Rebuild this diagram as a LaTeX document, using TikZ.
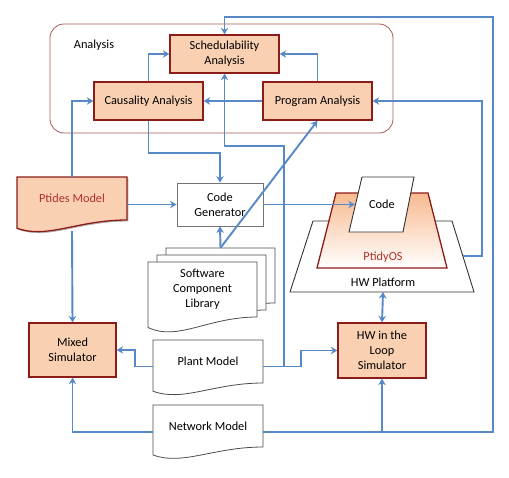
\documentclass[tikz,border=0pt]{standalone}
\usepackage{fontspec}
\setmainfont{Carlito}
\usepackage{xcolor}
\usepackage{tikz}
\usetikzlibrary{shapes,shapes.geometric}
\usetikzlibrary{calc,arrows.meta,positioning,shadows}
\definecolor{boxfill}{RGB}{250,208,178}
\definecolor{boxline}{RGB}{140,28,24}
\definecolor{ostop}{RGB}{247,186,144}
\definecolor{linkblue}{RGB}{88,137,199}
\definecolor{txtred}{RGB}{176,48,38}
\definecolor{anaframe}{RGB}{170,90,90}
\tikzset{
  basenode/.style = {align=center, inner sep=0pt, text centered, font=\fontsize{12.3}{15}\selectfont},
  box_o/.style = {basenode, rectangle, draw=boxline, fill=boxfill, line width=1.3pt, drop shadow={opacity=0.3, shadow xshift=1.2pt, shadow yshift=-1.2pt}},
  box_w/.style = {basenode, rectangle, draw=black!55, fill=white, line width=0.8pt},
  doc_n/.style = {basenode, rectangle},
  doc_o/.style = {draw=boxline, fill=boxfill, line width=1.3pt},
  doc_w/.style = {draw=black!70, fill=white, line width=0.8pt},
  plat_w/.style = {draw=black!80, fill=white, line width=0.9pt},
  os_o/.style = {draw=boxline, top color=ostop, bottom color=white, line width=1.3pt},
  link/.style = {draw=linkblue, line width=1.9pt, ->, >={Stealth[length=6.5pt,width=7.5pt]}}
}
\newcommand\docnode[7]{%
  \draw[#1] ($#4+(-#5/2,#6/2)$) -- ++(#5,0) -- ++(0,-#6)
    .. controls +(-0.45*#5,0) and +(0.27*#5,-0.26*#6) .. ++(-#5,-0.19*#6) -- cycle;
  \node[doc_n, minimum width=#5pt, minimum height=#6pt, #2] (#3) at #4 {#7};}

\begin{document}
\begin{tikzpicture}[x=1pt,y=1pt]
  \useasboundingbox (0,0) rectangle (509,-477);
  \draw[draw=anaframe, line width=0.8pt, rounded corners=14pt] (50,-24) rectangle (393,-133);
  \node[basenode] (analabel) at (94,-45) {Analysis};

  \node[box_o, minimum width=109pt, minimum height=38pt] (sched) at (224.5,-54) {Schedulability\\Analysis};
  \node[box_o, minimum width=109pt, minimum height=38pt] (causal) at (148.5,-101) {Causality Analysis};
  \node[box_o, minimum width=109pt, minimum height=38pt] (prog) at (317.5,-101) {Program Analysis};

  \docnode{fill=black, opacity=0.25, xshift=1.2pt, yshift=-1.2pt}{}{ptsh}{(72,-198.5)}{110}{43}{}
  \docnode{doc_o}{text=txtred}{ptides}{(72,-198.5)}{110}{43}{Ptides Model}
  \node[box_w, minimum width=86pt, minimum height=43pt] (codegen) at (220,-204.5) {Code\\Generator};

  \docnode{doc_w}{}{libb}{(220.5,-275.5)}{109}{55}{}
  \docnode{doc_w}{}{libm}{(211.5,-282.5)}{109}{55}{}
  \docnode{doc_w}{}{lib}{(202.5,-289.5)}{109}{55}{Software\\Component\\Library}

  \draw[plat_w] (313,-221) -- (452,-221) -- (474,-292) -- (290,-292) -- cycle;
  \draw[os_o] (336,-193) -- (428,-193) -- (447,-268) -- (317,-268) -- cycle;
  \draw[plat_w] (362,-177) -- (414,-177) -- (403,-232) -- (349,-232) -- cycle;
  \node[basenode, minimum width=54pt, minimum height=55pt] (code) at (382,-204.5) {Code};
  \node[basenode, text=txtred] (ptidyos) at (383,-257) {PtidyOS};
  \node[basenode] (hwplat) at (383,-282) {HW Platform};
  \coordinate (hwbot) at (383,-292);
  \coordinate (hwside) at (463,-256);

  \node[box_o, minimum width=87pt, minimum height=54pt] (mixed) at (72.5,-350) {Mixed\\Simulator};
  \node[box_o, minimum width=88pt, minimum height=55pt] (hwl) at (382,-350.5) {HW in the\\Loop\\Simulator};
  \docnode{doc_w}{}{plant}{(208,-361.5)}{110}{43}{Plant Model}
  \docnode{doc_w}{}{network}{(208,-426)}{110}{42}{Network Model}

  \draw[link] (causal.north) |- (sched.west);
  \draw[link] (prog.north) |- (sched.east);
  \draw[link] (prog.west) -- (causal.east);
  \draw[link] (ptides.north) |- (causal.west);
  \draw[link] (causal.south) -- ++(0,-32) -| (codegen.north);
  \draw[link] (ptides.east |- codegen.west) -- (codegen.west);
  \draw[link] (codegen.east) -- (code.west);
  \draw[link] (libb.north) -- (codegen.south);
  \draw[link] (libb.north) -- (prog.south);
  \draw[link] ([yshift=-11pt]ptides.south) -- (mixed.north);
  \draw[link] ([yshift=-5pt]plant.west) -- ++(-18,0) |- (mixed.east);
  \draw[link] ([yshift=-6pt]network.west) -| (mixed.south);
  \draw[link] ([yshift=-5pt]plant.east) -- ++(38,0) |- (hwl.west);
  \draw[link] ([yshift=-5pt]plant.east) -- ++(21,0) |- ([yshift=-72pt]sched.south) -- (sched.south);
  \draw[link, <->] (hwbot) -- (hwl.north);
  \draw[link] ([yshift=-6pt]network.east) -| (hwl.south);
  \draw[link] ([yshift=-6pt]network.east) -- ++(230,0) |- ([yshift=17pt]sched.north) -- (sched.north);
  \draw[link] (hwside) -- ++(19,0) |- (prog.east);
\end{tikzpicture}
\end{document}
